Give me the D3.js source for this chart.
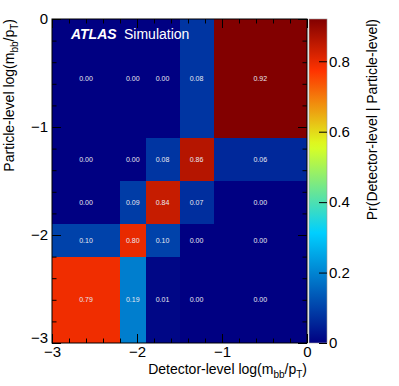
<!DOCTYPE html>
<html>
<head>
<meta charset="utf-8">
<script src="https://cdn.jsdelivr.net/npm/d3@7"></script>
<style>
  body { margin: 0; background: white; }
  svg { display: block; font-family: "Liberation Sans", Arial, sans-serif; }
</style>
</head>
<body>
<div id="chart"></div>
<script>
// bin edges (same for detector- and particle-level)
const binEdges = [-3, -2.2, -1.9, -1.5, -1.1, 0];

// migration matrix, one array per particle-level bin (bottom to top),
// each entry is a detector-level bin (left to right)
const rowBin1 = [0.79, 0.19, 0.01, 0.00, 0.00];
const rowBin2 = [0.10, 0.80, 0.10, 0.00, 0.00];
const rowBin3 = [0.00, 0.09, 0.84, 0.07, 0.00];
const rowBin4 = [0.00, 0.00, 0.08, 0.86, 0.06];
const rowBin5 = [0.00, 0.00, 0.00, 0.08, 0.92];

const axisTicks = [-3, -2, -1, 0];
const zTicks = [0, 0.2, 0.4, 0.6, 0.8];
const zMax = 0.92;

const W = 399, H = 386;
const frame = { left: 52, right: 307, top: 19, bottom: 343 };
const bar = { left: 309, right: 327 };

const svg = d3.select("#chart").append("svg")
    .attr("width", W)
    .attr("height", H);

const x = d3.scaleLinear().domain([-3, 0]).range([frame.left, frame.right]);
const y = d3.scaleLinear().domain([-3, 0]).range([frame.bottom, frame.top]);

// ROOT-style gradient palette
const color = d3.scaleLinear()
    .domain([0, 0.34, 0.61, 0.84, 1].map(s => s * zMax))
    .range(["rgb(0,0,130)", "rgb(0,207,255)", "rgb(222,255,31)", "rgb(255,51,0)", "rgb(130,0,0)"])
    .clamp(true);

// build cells
const rows = [rowBin1, rowBin2, rowBin3, rowBin4, rowBin5];
const cells = [];
rows.forEach((row, j) => {
  row.forEach((v, i) => {
    cells.push({ x0: binEdges[i], x1: binEdges[i + 1], y0: binEdges[j], y1: binEdges[j + 1], v: v });
  });
});

svg.append("g").selectAll("rect")
    .data(cells)
    .enter()
    .append("rect")
    .attr("x", d => x(d.x0))
    .attr("y", d => y(d.y1))
    .attr("width", d => x(d.x1) - x(d.x0))
    .attr("height", d => y(d.y0) - y(d.y1))
    .attr("fill", d => color(d.v))
    .attr("shape-rendering", "crispEdges");

svg.append("g").selectAll("text")
    .data(cells)
    .enter()
    .append("text")
    .attr("x", d => x((d.x0 + d.x1) / 2))
    .attr("y", d => y((d.y0 + d.y1) / 2))
    .attr("dy", "0.35em")
    .attr("text-anchor", "middle")
    .style("font-size", "7px")
    .attr("fill", "#e8e8f0")
    .text(d => d.v.toFixed(2));

// axes: ticks point inward, on all four sides
const minorTicks = d3.range(-3, 0.001, 0.2).map(v => +v.toFixed(1));

function drawAxis(axisFn, scale, transform, size, values, labels, pad) {
  const g = svg.append("g")
      .attr("transform", transform)
      .call(axisFn(scale).tickValues(values).tickSize(-size).tickPadding(pad)
          .tickFormat(labels ? d3.format("") : ""));
  g.select(".domain").remove();
  g.selectAll("line").attr("stroke", "black");
  g.selectAll("text").style("font-size", "15px").attr("fill", "black").style("font-family", "Liberation Sans, Arial, sans-serif");
  return g;
}

drawAxis(d3.axisBottom, x, `translate(0,${frame.bottom})`, 4.5, minorTicks, false, 3);
drawAxis(d3.axisBottom, x, `translate(0,${frame.bottom})`, 9, axisTicks, true, 3.5);
drawAxis(d3.axisTop, x, `translate(0,${frame.top})`, 4.5, minorTicks, false, 3);
drawAxis(d3.axisTop, x, `translate(0,${frame.top})`, 9, axisTicks, false, 3);
drawAxis(d3.axisLeft, y, `translate(${frame.left},0)`, 4.5, minorTicks, false, 3);
const yAxisG = drawAxis(d3.axisLeft, y, `translate(${frame.left},0)`, 9, axisTicks, true, 4);
drawAxis(d3.axisRight, y, `translate(${frame.right},0)`, 4.5, minorTicks, false, 3);
drawAxis(d3.axisRight, y, `translate(${frame.right},0)`, 9, axisTicks, false, 3);

// lowest y label is nudged up, as ROOT does at the corner
yAxisG.selectAll(".tick text").filter(d => d === -3).attr("dy", "-0.05em");

svg.append("rect")
    .attr("x", frame.left)
    .attr("y", frame.top)
    .attr("width", frame.right - frame.left)
    .attr("height", frame.bottom - frame.top)
    .attr("fill", "none")
    .attr("stroke", "black")
    .attr("stroke-width", 1);

// colour bar
const z = d3.scaleLinear().domain([0, zMax]).range([frame.bottom, frame.top]);
const grad = svg.append("defs").append("linearGradient")
    .attr("id", "zgrad")
    .attr("x1", 0).attr("y1", 1).attr("x2", 0).attr("y2", 0);
grad.selectAll("stop")
    .data(d3.range(0, 1.0001, 0.02))
    .enter()
    .append("stop")
    .attr("offset", d => d)
    .attr("stop-color", d => color(d * zMax));

svg.append("rect")
    .attr("x", bar.left)
    .attr("y", frame.top)
    .attr("width", bar.right - bar.left)
    .attr("height", frame.bottom - frame.top)
    .attr("fill", "url(#zgrad)")
    .attr("stroke", "#999")
    .attr("stroke-width", 0.6);

const zAxis = svg.append("g")
    .attr("transform", `translate(${bar.right},0)`)
    .call(d3.axisRight(z).tickValues(zTicks).tickSize(-8).tickPadding(2)
        .tickFormat(d => d === 0 ? "0" : d3.format(".1f")(d)));
zAxis.select(".domain").remove();
zAxis.selectAll("line").attr("stroke", "black");
zAxis.selectAll("text").style("font-size", "15px").attr("fill", "black");

// titles
const xTitle = svg.append("text")
    .attr("x", frame.right)
    .attr("y", 374)
    .attr("text-anchor", "end")
    .style("font-size", "14px");
xTitle.append("tspan").text("Detector-level log(m");
xTitle.append("tspan").attr("dy", 4).style("font-size", "10px").text("bb");
xTitle.append("tspan").attr("dy", -4).text("/p");
xTitle.append("tspan").attr("dy", 4).style("font-size", "10px").text("T");
xTitle.append("tspan").attr("dy", -4).text(")");

const yTitle = svg.append("text")
    .attr("transform", `translate(14,${frame.top}) rotate(-90)`)
    .attr("text-anchor", "end")
    .style("font-size", "14px");
yTitle.append("tspan").text("Particle-level log(m");
yTitle.append("tspan").attr("dy", 4).style("font-size", "10px").text("bb");
yTitle.append("tspan").attr("dy", -4).text("/p");
yTitle.append("tspan").attr("dy", 4).style("font-size", "10px").text("T");
yTitle.append("tspan").attr("dy", -4).text(")");

svg.append("text")
    .attr("transform", `translate(377,${frame.top}) rotate(-90)`)
    .attr("text-anchor", "end")
    .style("font-size", "14px")
    .text("Pr(Detector-level | Particle-level)");

// ATLAS label
const atlas = svg.append("text")
    .attr("x", 71)
    .attr("y", 39)
    .attr("fill", "white")
    .style("font-size", "14px");
atlas.append("tspan").style("font-weight", "bold").style("font-style", "italic").text("ATLAS");
atlas.append("tspan").attr("x", 124).text("Simulation");
</script>
</body>
</html>
